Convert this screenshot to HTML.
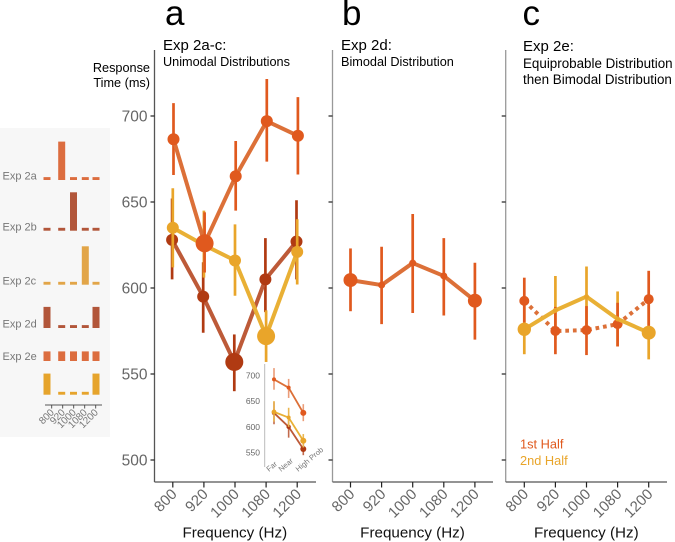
<!DOCTYPE html>
<html>
<head>
<meta charset="utf-8">
<style>
html,body{margin:0;padding:0;background:#fff;width:675px;height:542px;overflow:hidden}
svg{display:block;font-family:"Liberation Sans",Arial,sans-serif}
</style>
</head>
<body>
<svg id="chart" width="675" height="542" viewBox="0 0 675 542" xmlns="http://www.w3.org/2000/svg">
  <rect x="0" y="128" width="110" height="309" fill="#f7f7f7"/>
  <text x="165" y="25" font-size="35" fill="#000">a</text>
  <text x="342" y="25" font-size="35" fill="#000">b</text>
  <text x="522.5" y="25" font-size="35" fill="#000">c</text>
  <text x="163" y="50" font-size="15" fill="#000">Exp 2a-c:</text>
  <text x="163" y="66" font-size="12.7" fill="#000">Unimodal Distributions</text>
  <text x="341" y="50" font-size="15" fill="#000">Exp 2d:</text>
  <text x="341" y="66" font-size="12.7" fill="#000">Bimodal Distribution</text>
  <text x="523" y="51" font-size="15" fill="#000">Exp 2e:</text>
  <text x="523" y="68" font-size="13.4" fill="#000">Equiprobable Distribution</text>
  <text x="523" y="92" font-size="13.4" fill="#000" dy="-8">then Bimodal Distribution</text>
  <text x="150" y="72" font-size="12.7" text-anchor="end" fill="#000">Response</text>
  <text x="150" y="87" font-size="12.7" text-anchor="end" fill="#000">Time (ms)</text>
  <text x="520" y="448.5" font-size="12.8" fill="#e0591e">1st Half</text>
  <text x="520" y="465" font-size="12.8" fill="#e9a52a">2nd Half</text>
</svg>
<script>
const frequencies = ['800', '920', '1000', '1080', '1200'];
const yTicks = [700, 650, 600, 550, 500];

const expAMean = [686.5, 626, 665, 697, 688.5];
const expALow = [665.7, 609, 645, 673.5, 666];
const expAHigh = [707.5, 644, 685.5, 721.5, 711];
const expASize = [6, 9, 6, 6, 6];

const expBMean = [628, 595, 557, 605, 627];
const expBLow = [605, 574, 540, 586, 605];
const expBHigh = [652, 615, 573, 629, 651];
const expBSize = [6, 6, 9, 6, 6];

const expCMean = [635, 625, 616, 572, 621];
const expCLow = [612, 606, 595.5, 557, 602];
const expCHigh = [658, 645, 637, 587, 640];
const expCSize = [6, 3, 6, 9, 6];

const expDMean = [604.6, 601.7, 614.5, 607, 592.6];
const expDLow = [586.5, 579, 585.5, 584, 570];
const expDHigh = [623, 624, 643, 629, 614.7];
const expDSize = [7, 3.5, 3.5, 3.5, 7];

const firstHalfMean = [592.5, 575, 575.5, 579, 593.5];
const firstHalfLow = [580, 561.5, 561, 566, 578];
const firstHalfHigh = [606, 589, 589.5, 591.4, 610];
const firstHalfSize = [5, 5, 5, 5, 5];

const secondHalfMean = [576, 587, 595, 582, 574];
const secondHalfLow = [561.5, 570, 577, 566, 558.5];
const secondHalfHigh = [590, 607, 612.5, 598, 590];
const secondHalfSize = [6.7, 2.5, 2.5, 2.5, 7];

const insetCategories = ['Far', 'Near', 'High Prob'];
const insetTicks = [700, 650, 600, 550];
const insetAMean = [692, 676, 627];
const insetALow = [672, 656, 611];
const insetAHigh = [714, 693, 644];
const insetBMean = [627, 600, 557];
const insetBLow = [605, 579, 545];
const insetBHigh = [648, 622, 572];
const insetCMean = [629, 618, 573];
const insetCLow = [610, 600, 560];
const insetCHigh = [650, 637, 586];

const distRowLabels = ['Exp 2a', 'Exp 2b', 'Exp 2c', 'Exp 2d', 'Exp 2e', ''];
const distRow1 = [0.06, 0.8, 0.06, 0.06, 0.06];
const distRow2 = [0.06, 0.06, 0.8, 0.06, 0.06];
const distRow3 = [0.06, 0.06, 0.06, 0.8, 0.06];
const distRow4 = [0.44, 0.06, 0.06, 0.06, 0.44];
const distRow5 = [0.2, 0.2, 0.2, 0.2, 0.2];
const distRow6 = [0.44, 0.06, 0.06, 0.06, 0.44];

const svg = document.getElementById('chart');
const NS = 'http://www.w3.org/2000/svg';
const DARK = '#b03a12', DARK_L = '#bd5a38';
const ORG = '#e0591e', ORG_L = '#dc7038';
const YEL = '#e9a52a', YEL_L = '#e9b035';

function make(tag, attrs, text) {
  const el = document.createElementNS(NS, tag);
  for (const k in attrs) el.setAttribute(k, attrs[k]);
  if (text !== undefined) el.textContent = text;
  svg.appendChild(el);
  return el;
}
function yScale(v) { return 116 + (700 - v) * 1.72; }
function xScale(left, i) { return left + i * 31.1; }
function insetY(v) { return 375.3 + (700 - v) * 0.5153; }
function insetX(i) { return 274 + i * 14.65; }

function drawAxes(prefix, axisX, rightX, firstTick, showLabels) {
  const yAxis = make('line', {x1: axisX, x2: axisX, y1: 50, y2: 482, stroke: showLabels ? '#555' : '#999', 'stroke-width': 1.3});
  
  
  const xAxis = make('line', {x1: axisX, x2: rightX, y1: 482, y2: 482, stroke: '#555', 'stroke-width': 1.3});
  
  
  yTicks.forEach(function (t) {
    const tick = make('line', {x1: axisX - 4, x2: axisX, y1: yScale(t), y2: yScale(t), stroke: '#222', 'stroke-width': 1.2});
    
    
    if (showLabels) {
      const lab = make('text', {x: axisX - 7, y: yScale(t) + 5.5, 'font-size': 15.5, 'text-anchor': 'end', fill: '#666'}, String(t));
      
      
    }
  });
  frequencies.forEach(function (f, i) {
    const x = xScale(firstTick, i);
    const tick = make('line', {x1: x, x2: x, y1: 482, y2: 487.5, stroke: '#222', 'stroke-width': 1.2});
    
    
    const tx = x + 5, ty = 495;
    const lab = make('text', {x: tx, y: ty, 'font-size': 15, 'text-anchor': 'end', fill: '#666', transform: 'rotate(-45 ' + tx + ' ' + ty + ')'}, f);
    
    
  });
  const title = make('text', {x: firstTick + 62, y: 537.5, 'font-size': 15.2, 'text-anchor': 'middle', fill: '#111'}, 'Frequency (Hz)');
  
  
}

function drawErrors(name, first, dx, low, high, color) {
  low.forEach(function (l, i) {
    const x = xScale(first, i) + dx;
    const e = make('line', {x1: x, x2: x, y1: yScale(high[i]), y2: yScale(l), stroke: color, 'stroke-width': 2.7});
    
    
  });
}
function drawLine(name, first, dx, mean, color, dash) {
  const pts = mean.map(function (m, i) { return (xScale(first, i) + dx) + ',' + yScale(m); }).join(' ');
  const attrs = {points: pts, fill: 'none', stroke: color, 'stroke-width': 4, 'stroke-linejoin': 'round'};
  if (dash) attrs['stroke-dasharray'] = dash;
  const l = make('polyline', attrs);
  
  
}
function drawPoints(name, first, dx, mean, size, color) {
  mean.forEach(function (m, i) {
    const c = make('circle', {cx: xScale(first, i) + dx, cy: yScale(m), r: size[i], fill: color});
    
    
  });
}
function drawSeries(name, first, dx, mean, low, high, size, color, lineColor) {
  drawErrors(name, first, dx, low, high, color);
  drawLine(name, first, dx, mean, lineColor);
  drawPoints(name, first, dx, mean, size, color);
}

drawAxes('panel-a', 154.5, 316, 172.8, true);
drawAxes('panel-b', 332.5, 493, 350.5, false);
drawAxes('panel-c', 505.7, 667, 524.3, false);

drawSeries('exp-2b', 172.8, -0.7, expBMean, expBLow, expBHigh, expBSize, DARK, DARK_L);
drawSeries('exp-2c', 172.8, 0, expCMean, expCLow, expCHigh, expCSize, YEL, YEL_L);
drawSeries('exp-2a', 172.8, 0.7, expAMean, expALow, expAHigh, expASize, ORG, ORG_L);
drawSeries('exp-2d', 350.5, 0, expDMean, expDLow, expDHigh, expDSize, ORG, ORG_L);

drawErrors('second-half', 524.3, 0, secondHalfLow, secondHalfHigh, YEL);
drawErrors('first-half', 524.3, 0, firstHalfLow, firstHalfHigh, ORG);
drawLine('first-half', 524.3, 0, firstHalfMean, ORG_L, '3.7 3.9');
drawPoints('first-half', 524.3, 0, firstHalfMean, firstHalfSize, ORG);
drawLine('second-half', 524.3, 0, secondHalfMean, YEL_L);
drawPoints('second-half', 524.3, 0, secondHalfMean, secondHalfSize, YEL);

/* inset */
const insetAxis = make('line', {x1: 264.7, x2: 264.7, y1: 364, y2: 467, stroke: '#bbb', 'stroke-width': 1});


insetTicks.forEach(function (t) {
  const lab = make('text', {x: 260, y: insetY(t) + 3, 'font-size': 8.5, 'text-anchor': 'end', fill: '#666'}, String(t));
  
  
});
const insetLabelStart = [-5, -7.5, -5];
insetCategories.forEach(function (c, i) {
  const tx = insetX(i) + insetLabelStart[i], ty = 472;
  const lab = make('text', {x: tx, y: ty, 'font-size': 7.5, fill: '#777', transform: 'rotate(-40 ' + tx + ' ' + ty + ')'}, c);
  
  
});
function drawInset(name, mean, low, high, color, errColor, lineColor, sizes) {
  mean.forEach(function (m, i) {
    const e = make('line', {x1: insetX(i), x2: insetX(i), y1: insetY(high[i]), y2: insetY(low[i]), stroke: errColor, 'stroke-width': 1.6});
    
    
  });
  const pts = mean.map(function (m, i) { return insetX(i) + ',' + insetY(m); }).join(' ');
  const l = make('polyline', {points: pts, fill: 'none', stroke: lineColor, 'stroke-width': 1.8});
  
  
  mean.forEach(function (m, i) {
    const p = make('circle', {cx: insetX(i), cy: insetY(m), r: sizes[i], fill: color});
    
    
  });
}
drawInset('inset-exp-2b', insetBMean, insetBLow, insetBHigh, DARK, '#c26a4c', DARK_L, [2.2, 2.2, 3]);
drawInset('inset-exp-2c', insetCMean, insetCLow, insetCHigh, YEL, '#eab650', YEL_L, [2.4, 2, 3]);
drawInset('inset-exp-2a', insetAMean, insetALow, insetAHigh, ORG, '#eb9c78', ORG_L, [2, 2, 3]);

/* distributions */
const distX = [47, 61.7, 73.5, 85.3, 96];
function barX(i) { return distX[i]; }
function drawDist(name, values, baseline, color, labelY, label, width) {
  values.forEach(function (v, i) {
    const h = v * 48;
    const b = make('rect', {x: barX(i) - width / 2, y: baseline - h, width: width, height: h, fill: color});
    
    
  });
  if (label) {
    const t = make('text', {x: 2.5, y: labelY, 'font-size': 11, fill: '#777'}, label);
    
    
  }
}
drawDist('dist-exp-2a', distRow1, 180, '#dc6d3f', 179.3, distRowLabels[0], 7);
drawDist('dist-exp-2b', distRow2, 230.7, '#b2563a', 230.7, distRowLabels[1], 7);
drawDist('dist-exp-2c', distRow3, 284.7, '#e2a548', 284.3, distRowLabels[2], 7);
drawDist('dist-exp-2d', distRow4, 328, '#b2563a', 327.7, distRowLabels[3], 7);
drawDist('dist-exp-2e-first', distRow5, 361, '#dc6d3f', 360, distRowLabels[4], 7);
drawDist('dist-exp-2e-second', distRow6, 394.7, '#e6a42c', 0, distRowLabels[5], 7);

const distAxis = make('line', {x1: 45, x2: 102, y1: 405, y2: 405, stroke: '#555', 'stroke-width': 0.9});


frequencies.forEach(function (f, i) {
  const x = 51.7 + i * 11;
  const tick = make('line', {x1: x, x2: x, y1: 405, y2: 408.5, stroke: '#444', 'stroke-width': 0.9});
  
  
  const tx = x + 3, ty = 413;
  const lab = make('text', {x: tx, y: ty, 'font-size': 10, 'text-anchor': 'end', fill: '#777', transform: 'rotate(-45 ' + tx + ' ' + ty + ')'}, f);
  
  
});
</script>
</body>
</html>
